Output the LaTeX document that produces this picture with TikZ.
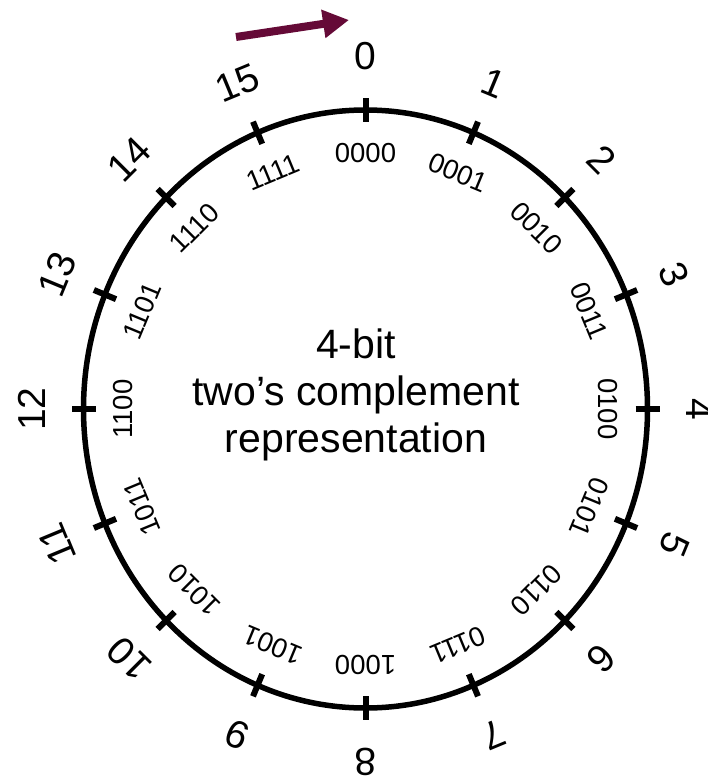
\documentclass[tikz,border=0pt]{standalone}
\usepackage{fontspec}
\setmainfont{Liberation Sans}
\usetikzlibrary{arrows.meta}
\definecolor{arrowc}{RGB}{101,10,55}
\begin{document}
\begin{tikzpicture}[x=1pt,y=-1pt,
  outer/.style={font=\fontsize{39}{39}\selectfont, inner sep=0pt},
  bin/.style={font=\fontsize{27.5}{27.5}\selectfont, inner sep=0pt},
  tickmark/.style={line width=6pt},
  ring/.style={line width=5.5pt},
  title/.style={align=center, font=\fontsize{41}{47}\selectfont, inner sep=0pt}]
\path[use as bounding box] (0,0) rectangle (708,783);
\def\cx{365.5}\def\cy{409}
\draw[ring] (\cx,\cy) ellipse [x radius=282pt, y radius=299pt];
\foreach \k/\b in {0/0000,1/0001,2/0010,3/0011,4/0100,5/0101,6/0110,7/0111,8/1000,9/1001,10/1010,11/1011,12/1100,13/1101,14/1110,15/1111} {
  \pgfmathsetmacro\t{22.5*\k}
  \coordinate (ti\k) at ({\cx+270*sin(\t)}, {\cy-287*cos(\t)});
  \coordinate (to\k) at ({\cx+294*sin(\t)}, {\cy-311*cos(\t)});
  \draw[tickmark] (ti\k) -- (to\k);
  \node[outer, rotate=-\t] (n\k) at ({\cx+334*sin(\t)}, {\cy-353*cos(\t)}) {\k};
  \node[bin, rotate=-\t] (b\k) at ({\cx+242*sin(\t)}, {\cy-256*cos(\t)}) {\b};
}
\node[title] (caption) at (356,395) {4-bit\\two’s complement\\representation};
\coordinate (as) at (236,37);
\coordinate (ae) at (349,20);
\draw[arrowc, line width=8pt, -{Triangle[length=26pt,width=27pt]}] (as) -- (ae);
\end{tikzpicture}
\end{document}
